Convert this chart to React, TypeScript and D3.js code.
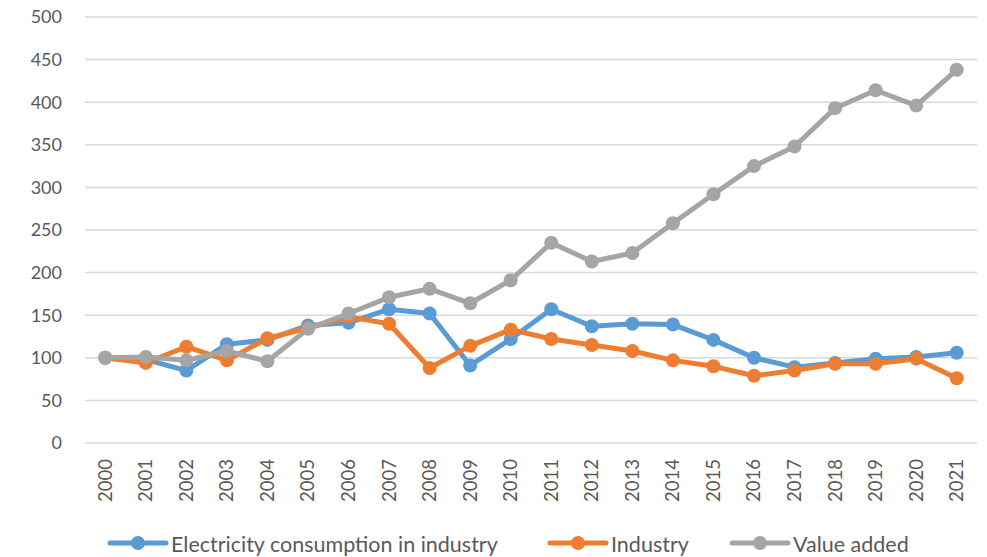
import React, { useEffect, useRef } from "react";
import * as d3 from "d3";

const years = [
  "2000", "2001", "2002", "2003", "2004", "2005", "2006", "2007", "2008", "2009", "2010",
  "2011", "2012", "2013", "2014", "2015", "2016", "2017", "2018", "2019", "2020", "2021",
];
const electricity = [100, 98, 85, 116, 121, 138, 141, 157, 152, 91, 122, 157, 137, 140, 139, 121, 100, 89, 94, 99, 101, 106];
const industry = [100, 94, 113, 97, 123, 135, 148, 140, 88, 114, 133, 122, 115, 108, 97, 90, 79, 85, 93, 93, 99, 76];
const valueAdded = [100, 101, 97, 108, 96, 134, 152, 171, 181, 164, 191, 235, 213, 223, 258, 292, 325, 348, 393, 414, 396, 438];
const yTicks = [0, 50, 100, 150, 200, 250, 300, 350, 400, 450, 500];

const seriesList = [
  { name: "Electricity consumption in industry", values: electricity, color: "#5B9BD5" },
  { name: "Industry", values: industry, color: "#ED7D31" },
  { name: "Value added", values: valueAdded, color: "#A5A5A5" },
];

const W = 987;
const H = 557;
const FONT = "Lato, 'Open Sans', sans-serif";

export default function App() {
  const svgRef = useRef<SVGSVGElement>(null);

  useEffect(() => {
    document.body.style.margin = "0";
    const svg = d3.select(svgRef.current);
    svg.selectAll("*").remove();

    const left = 85, right = 977, top = 17, bottom = 443;

    const x = d3.scaleBand().domain(years).range([left, right]);
    const y = d3.scaleLinear().domain([0, 500]).range([bottom, top]);
    const cx = (d: string) => (x(d) as number) + x.bandwidth() / 2;

    // grid
    svg.append("g")
      .selectAll("line")
      .data(yTicks)
      .enter()
      .append("line")
      .attr("x1", left)
      .attr("x2", right)
      .attr("y1", d => y(d))
      .attr("y2", d => y(d))
      .attr("stroke", "#D9D9D9")
      .attr("stroke-width", 1.5);

    // y labels
    svg.append("g")
      .selectAll("text")
      .data(yTicks)
      .enter()
      .append("text")
      .attr("x", 62)
      .attr("y", d => y(d))
      .attr("dy", "0.35em")
      .attr("text-anchor", "end")
      .style("font-family", FONT)
      .style("font-size", "18px")
      .attr("fill", "#595959")
      .text(d => d);

    // x labels
    svg.append("g")
      .selectAll("text")
      .data(years)
      .enter()
      .append("text")
      .attr("transform", d => `translate(${cx(d)},${bottom + 16}) rotate(-90)`)
      .attr("dy", "0.35em")
      .attr("text-anchor", "end")
      .style("font-family", FONT)
      .style("font-size", "18.5px")
      .attr("fill", "#595959")
      .text(d => d);

    const line = d3.line<number>()
      .x((_, i) => cx(years[i]))
      .y(d => y(d));

    seriesList.forEach(s => {
      const g = svg.append("g");
      g.append("path")
        .attr("d", line(s.values))
        .attr("fill", "none")
        .attr("stroke", s.color)
        .attr("stroke-width", 5)
        .attr("stroke-linejoin", "round");
      g.selectAll("circle")
        .data(s.values)
        .enter()
        .append("circle")
        .attr("cx", (_, i) => cx(years[i]))
        .attr("cy", d => y(d))
        .attr("r", 7)
        .attr("fill", s.color);
    });

    // legend
    const legendX = [110, 550, 732];
    const ly = 543;
    seriesList.forEach((s, i) => {
      const g = svg.append("g").attr("transform", `translate(${legendX[i]},${ly})`);
      g.append("line")
        .attr("x1", 0)
        .attr("x2", 56)
        .attr("stroke", s.color)
        .attr("stroke-width", 5)
        .attr("stroke-linecap", "round");
      g.append("circle").attr("cx", 28).attr("r", 7).attr("fill", s.color);
      g.append("text")
        .attr("x", 61)
        .attr("y", 1)
        .attr("dy", "0.35em")
        .style("font-family", FONT)
        .style("font-size", "21.5px")
        .attr("fill", "#595959")
        .text(s.name);
    });
  }, []);

  return <svg ref={svgRef} width={W} height={H} style={{ display: "block", background: "#fff" }} />;
}
